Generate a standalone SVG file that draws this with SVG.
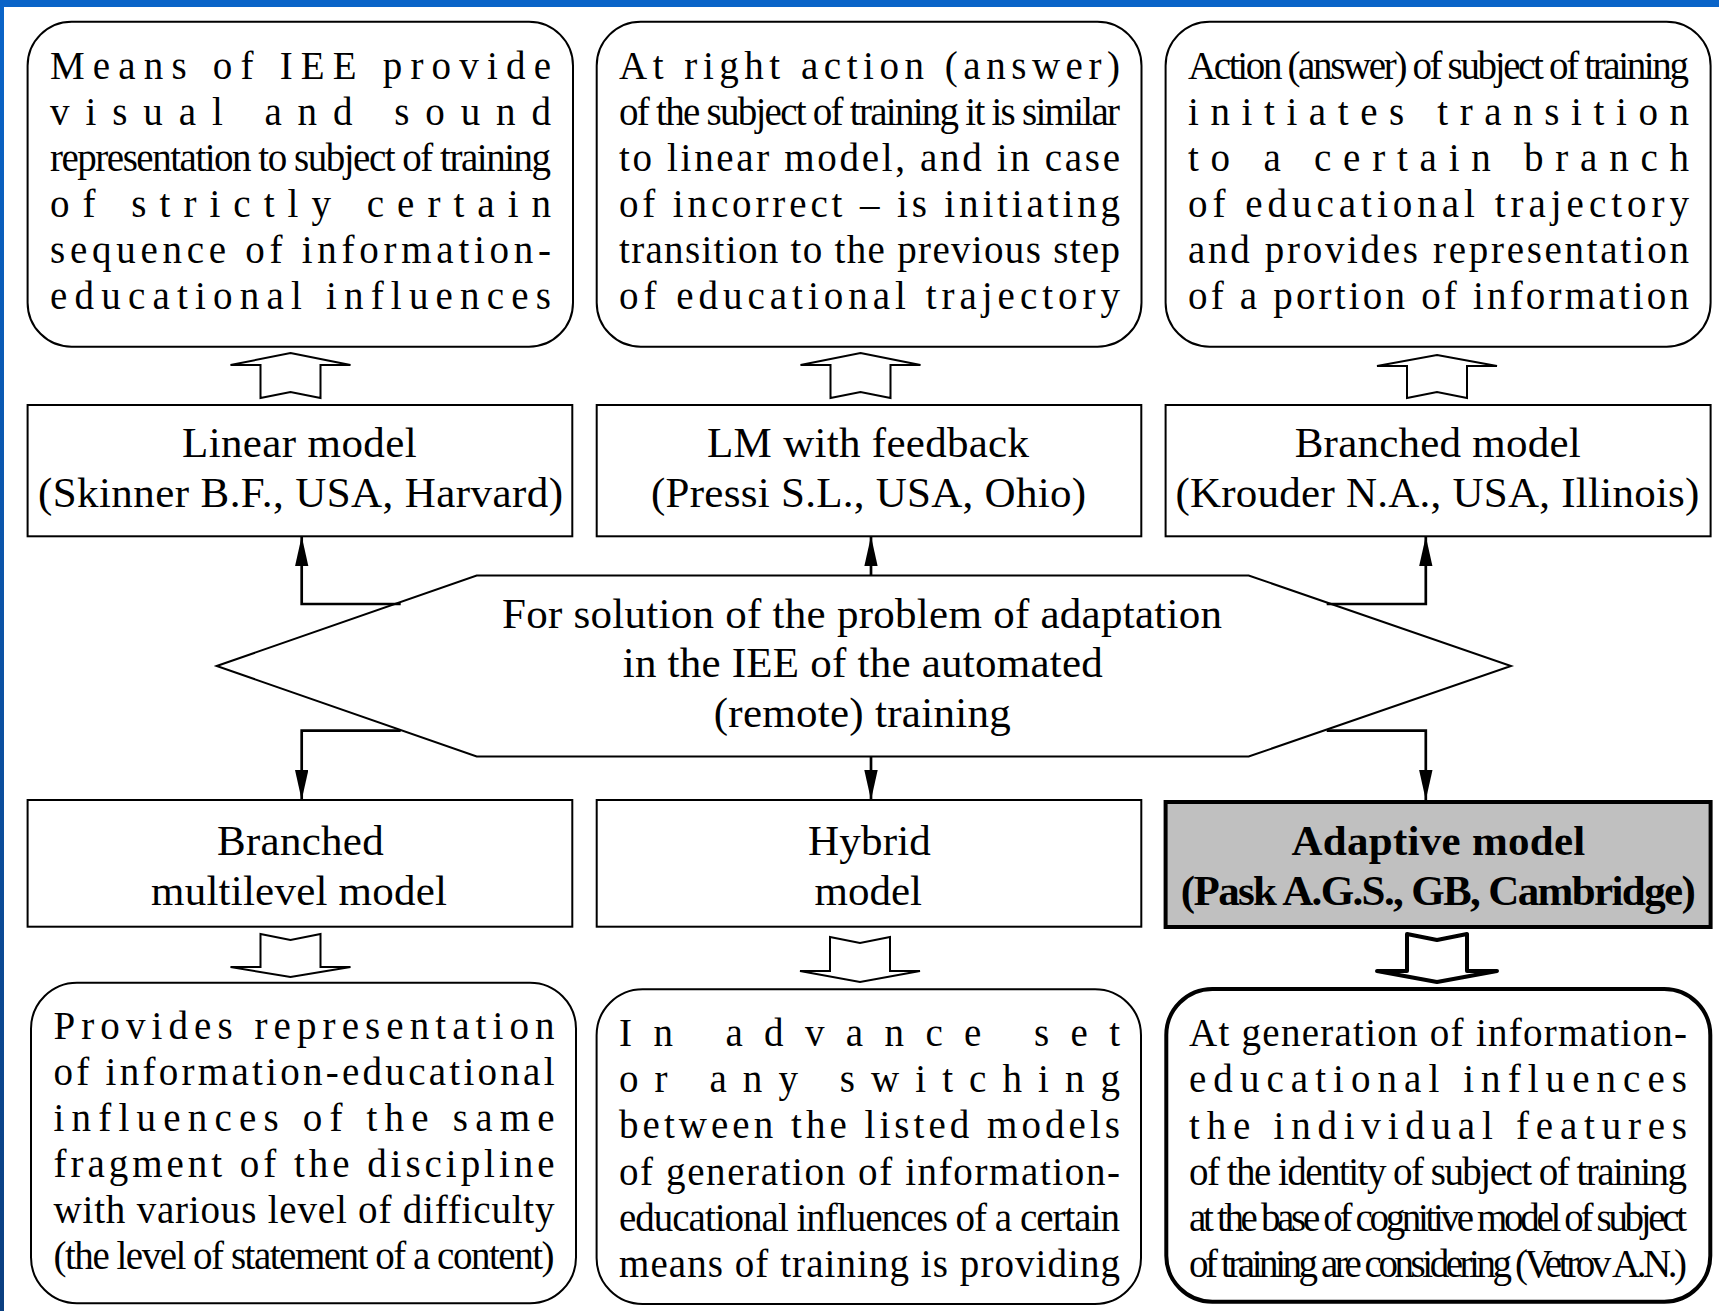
<svg xmlns="http://www.w3.org/2000/svg" width="1719" height="1311" viewBox="0 0 1719 1311">
<defs>
<linearGradient id="lb" x1="0" y1="0" x2="0" y2="1">
<stop offset="0" stop-color="#0a64c8"/>
<stop offset="1" stop-color="#0c3f80"/>
</linearGradient>
<marker id="ah" markerUnits="userSpaceOnUse" markerWidth="31" markerHeight="14" refX="30" refY="6.7" orient="auto">
<path d="M0,0 L30,6.7 L0,13.4 Z" fill="#000"/>
</marker>
<style>
.box{fill:#fff;stroke:#000;stroke-width:2}
.thick{fill:#fff;stroke:#000;stroke-width:4}
.gray{fill:#c0c0c0;stroke:#000;stroke-width:4}
.harrow{fill:#fff;stroke:#000;stroke-width:2;stroke-linejoin:miter}
.harrowb{fill:#fff;stroke:#000;stroke-width:4;stroke-linejoin:round}
.p{font-family:"Liberation Serif","Times New Roman",serif;font-size:39px;fill:#000}
.t{font-family:"Liberation Serif","Times New Roman",serif;font-size:43px;fill:#000}
.tb{font-family:"Liberation Serif","Times New Roman",serif;font-size:43px;font-weight:bold;fill:#000}
.conn{fill:none;stroke:#000;stroke-width:2.7}
</style>
</defs>
<rect x="0" y="0" width="1719" height="1311" fill="#fff"/>
<rect x="0" y="0" width="1719" height="7" fill="#0a64c8"/>
<rect x="0" y="0" width="4" height="1311" fill="url(#lb)"/>

<g id="top1">
<rect class="box" x="27.6" y="21.7" width="545.4" height="325" rx="44" ry="44"/>
<text class="p" x="50" y="79" textLength="501" lengthAdjust="spacing">Means of IEE provide</text>
<text class="p" x="50" y="125" textLength="501" lengthAdjust="spacing">visual and sound</text>
<text class="p" x="50" y="171" textLength="501" lengthAdjust="spacing">representation to subject of training</text>
<text class="p" x="50" y="217" textLength="501" lengthAdjust="spacing">of strictly certain</text>
<text class="p" x="50" y="263" textLength="501" lengthAdjust="spacing">sequence of information-</text>
<text class="p" x="50" y="309" textLength="501" lengthAdjust="spacing">educational influences</text>
</g>
<g id="top2">
<rect class="box" x="596.7" y="21.7" width="544.8" height="325" rx="44" ry="44"/>
<text class="p" x="619" y="79" textLength="501" lengthAdjust="spacing">At right action (answer)</text>
<text class="p" x="619" y="125" textLength="501" lengthAdjust="spacing">of the subject of training it is similar</text>
<text class="p" x="619" y="171" textLength="501" lengthAdjust="spacing">to linear model, and in case</text>
<text class="p" x="619" y="217" textLength="501" lengthAdjust="spacing">of incorrect – is initiating</text>
<text class="p" x="619" y="263" textLength="501" lengthAdjust="spacing">transition to the previous step</text>
<text class="p" x="619" y="309" textLength="501" lengthAdjust="spacing">of educational trajectory</text>
</g>
<g id="top3">
<rect class="box" x="1165.6" y="21.7" width="545" height="325" rx="44" ry="44"/>
<text class="p" x="1188" y="79" textLength="501" lengthAdjust="spacing">Action (answer) of subject of training</text>
<text class="p" x="1188" y="125" textLength="501" lengthAdjust="spacing">initiates transition</text>
<text class="p" x="1188" y="171" textLength="501" lengthAdjust="spacing">to a certain branch</text>
<text class="p" x="1188" y="217" textLength="501" lengthAdjust="spacing">of educational trajectory</text>
<text class="p" x="1188" y="263" textLength="501" lengthAdjust="spacing">and provides representation</text>
<text class="p" x="1188" y="309" textLength="501" lengthAdjust="spacing">of a portion of information</text>
</g>

<g id="up-arrow1"><polygon class="harrow" points="290.5,353 350.5,365 320.5,365 320.5,398 290.5,392 260.5,398 260.5,365 230.5,365"/></g>
<g id="up-arrow2"><polygon class="harrow" points="860.5,353 920.5,365 890.5,365 890.5,398 860.5,392 830.5,398 830.5,365 800.5,365"/></g>
<g id="up-arrow3"><polygon class="harrow" points="1437,355 1497,366 1467,366 1467,398 1437,392 1407,398 1407,366 1377,366"/></g>

<g id="linear">
<rect class="box" x="27.6" y="405" width="544.7" height="131.3"/>
<text class="t" x="182" y="457" textLength="234.6" lengthAdjust="spacing">Linear model</text>
<text class="t" x="38" y="507" textLength="525" lengthAdjust="spacing">(Skinner B.F., USA, Harvard)</text>
</g>
<g id="feedback">
<rect class="box" x="596.7" y="405" width="544.6" height="131.3"/>
<text class="t" x="707" y="457" textLength="322" lengthAdjust="spacing">LM with feedback</text>
<text class="t" x="651" y="507" textLength="435" lengthAdjust="spacing">(Pressi S.L., USA, Ohio)</text>
</g>
<g id="branched">
<rect class="box" x="1165.6" y="405" width="545" height="131.3"/>
<text class="t" x="1294.7" y="457" textLength="286" lengthAdjust="spacing">Branched model</text>
<text class="t" x="1175.4" y="507" textLength="524" lengthAdjust="spacing">(Krouder N.A., USA, Illinois)</text>
</g>

<g id="problem">
<polygon class="box" points="216.7,666 476.7,575.5 1248.7,575.5 1511,666 1248.7,756.5 476.7,756.5"/>
<text class="t" x="502" y="628" textLength="720" lengthAdjust="spacing">For solution of the problem of adaptation</text>
<text class="t" x="622.7" y="677" textLength="480" lengthAdjust="spacing">in the IEE of the automated</text>
<text class="t" x="713.7" y="727" textLength="297" lengthAdjust="spacing">(remote) training</text>
</g>

<g id="connectors">
<path class="conn" d="M400.7,604 H301.7 V536.3" marker-end="url(#ah)"/>
<path class="conn" d="M871,575.5 V536.3" marker-end="url(#ah)"/>
<path class="conn" d="M1326.7,604 H1425.8 V536.3" marker-end="url(#ah)"/>
<path class="conn" d="M400.7,730.7 H301.7 V800" marker-end="url(#ah)"/>
<path class="conn" d="M871,756.5 V800" marker-end="url(#ah)"/>
<path class="conn" d="M1326.7,730.7 H1425.8 V800" marker-end="url(#ah)"/>
</g>

<g id="multilevel">
<rect class="box" x="27.6" y="800" width="544.7" height="126.7"/>
<text class="t" x="217" y="855" textLength="166.7" lengthAdjust="spacing">Branched</text>
<text class="t" x="151" y="905" textLength="296" lengthAdjust="spacing">multilevel model</text>
</g>
<g id="hybrid">
<rect class="box" x="596.7" y="800" width="544.6" height="126.7"/>
<text class="t" x="808" y="855" textLength="122.8" lengthAdjust="spacing">Hybrid</text>
<text class="t" x="814.5" y="905" textLength="107.5" lengthAdjust="spacing">model</text>
</g>
<g id="adaptive">
<rect class="gray" x="1165.6" y="802" width="545" height="125"/>
<text class="tb" x="1291.5" y="855" textLength="293.8" lengthAdjust="spacing">Adaptive model</text>
<text class="tb" x="1180.8" y="905" textLength="515" lengthAdjust="spacing">(Pask A.G.S., GB, Cambridge)</text>
</g>

<g id="down-arrow1"><polygon class="harrow" points="260.5,934 290.5,940 320.5,934 320.5,967 350.5,967 290.5,977 230.5,967 260.5,967"/></g>
<g id="down-arrow2"><polygon class="harrow" points="830,937 860,943 890,937 890,971 920,971 860,982 800,971 830,971"/></g>
<g id="down-arrow3"><polygon class="harrowb" points="1407,934 1437,940 1467,934 1467,971 1497,971 1437,982 1377,971 1407,971"/></g>

<g id="bottom1">
<rect class="box" x="31" y="982.7" width="545" height="320.6" rx="46" ry="46"/>
<text class="p" x="53.5" y="1039" textLength="501" lengthAdjust="spacing">Provides representation</text>
<text class="p" x="53.5" y="1085" textLength="501" lengthAdjust="spacing">of information-educational</text>
<text class="p" x="53.5" y="1131" textLength="501" lengthAdjust="spacing">influences of the same</text>
<text class="p" x="53.5" y="1177" textLength="501" lengthAdjust="spacing">fragment of the discipline</text>
<text class="p" x="53.5" y="1223" textLength="501" lengthAdjust="spacing">with various level of difficulty</text>
<text class="p" x="53.5" y="1269" textLength="501" lengthAdjust="spacing">(the level of statement of a content)</text>
</g>
<g id="bottom2">
<rect class="box" x="596.6" y="989.3" width="544.4" height="314.7" rx="46" ry="46"/>
<text class="p" x="619" y="1046" textLength="501" lengthAdjust="spacing">In advance set</text>
<text class="p" x="619" y="1092" textLength="501" lengthAdjust="spacing">or any switching</text>
<text class="p" x="619" y="1138" textLength="501" lengthAdjust="spacing">between the listed models</text>
<text class="p" x="619" y="1185" textLength="501" lengthAdjust="spacing">of generation of information-</text>
<text class="p" x="619" y="1231" textLength="501" lengthAdjust="spacing">educational influences of a certain</text>
<text class="p" x="619" y="1277" textLength="501" lengthAdjust="spacing">means of training is providing</text>
</g>
<g id="bottom3">
<rect class="thick" x="1166.3" y="989" width="544" height="312.7" rx="46" ry="46"/>
<text class="p" x="1189" y="1046" textLength="498" lengthAdjust="spacing">At generation of information-</text>
<text class="p" x="1189" y="1092" textLength="498" lengthAdjust="spacing">educational influences</text>
<text class="p" x="1189" y="1139" textLength="498" lengthAdjust="spacing">the individual features</text>
<text class="p" x="1189" y="1185" textLength="498" lengthAdjust="spacing">of the identity of subject of training</text>
<text class="p" x="1189" y="1231" textLength="498" lengthAdjust="spacing">at the base of cognitive model of subject</text>
<text class="p" x="1189" y="1277" textLength="498" lengthAdjust="spacing">of training are considering (Vetrov A.N.)</text>
</g>
</svg>
